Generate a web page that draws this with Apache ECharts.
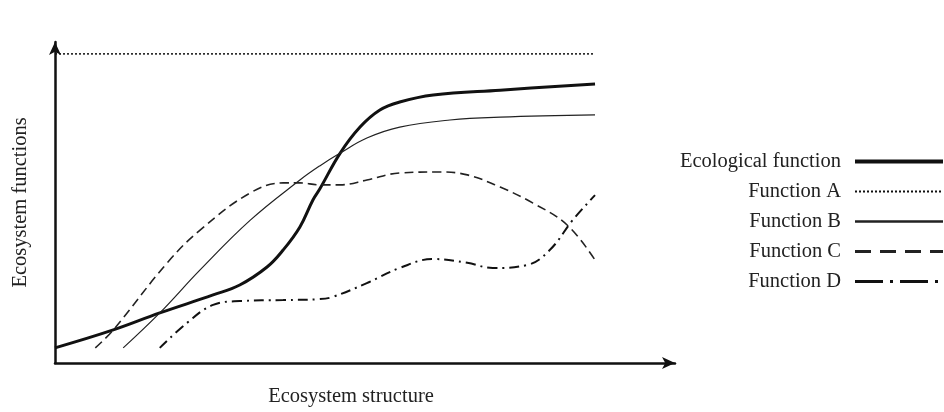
<!DOCTYPE html>
<html>
<head>
<meta charset="utf-8">
<script src="https://cdn.jsdelivr.net/npm/echarts@6/dist/echarts.min.js"></script>
<style>html,body{margin:0;padding:0;background:#fff}#c{width:944px;height:412px}</style>
</head>
<body>
<div id="c"></div>
<script>
var seriesNames = ['Ecological function', 'Function A', 'Function B', 'Function C', 'Function D'];
var ecological = [[0,4.7],[9.4,10.3],[16.9,15.6],[25.5,21.2],[29.8,24.3],[34.2,29.9],[36.8,35.2],[39.5,42.4],[41.6,50.8],[42.7,54.2],[46.0,65.4],[49.2,73.5],[52.4,78.8],[55.6,81.3],[61.0,83.5],[71.8,85.0],[87.1,86.9]];
var functionA = [[0,96.3],[87.1,96.3]];
var functionB = [[11.0,4.7],[16.9,15.6],[23.4,29.0],[31.5,44.5],[39.5,57.0],[42.7,61.4],[46.0,65.4],[50.3,70.1],[55.6,73.5],[63.7,75.7],[71.8,76.6],[87.1,77.3]];
var functionC = [[6.5,4.7],[9.4,10.3],[18.1,31.2],[23.4,41.4],[31.5,53.0],[36.8,56.1],[39.5,56.1],[42.7,55.5],[46.0,55.5],[50.3,57.0],[55.6,59.2],[62.1,59.5],[66.5,58.6],[71.8,54.8],[77.1,49.8],[82.6,43.0],[87.1,32.1]];
var functionD = [[16.9,4.7],[21.3,12.5],[25.5,18.1],[29.8,19.3],[36.8,19.6],[42.7,19.9],[44.8,20.6],[50.3,24.9],[55.6,29.6],[61.0,32.4],[66.5,31.2],[70.6,29.6],[76.1,30.5],[79.8,35.2],[83.5,44.5],[87.1,52.3]];

var serif = "'Liberation Serif', 'DejaVu Serif', serif";
var ink = '#111';
var legendStyles = [
  { width: 4, type: 'solid' },
  { width: 2, type: [2, 2] },
  { width: 2.5, type: 'solid' },
  { width: 3, type: [16, 9] },
  { width: 3, type: [28, 7, 3, 7] }
];
var chart = echarts.init(document.getElementById('c'));
chart.setOption({
  animation: false,
  backgroundColor: '#fff',
  grid: { left: 55, right: 269, top: 42, bottom: 49, containLabel: false, outerBoundsMode: 'none' },
  xAxis: {
    type: 'value', min: 0, max: 100,
    name: 'Ecosystem structure', nameLocation: 'middle', nameGap: 23,
    nameTextStyle: { fontFamily: serif, fontSize: 20.5, color: '#222', padding: [0, 28, 0, 0] },
    axisLine: { show: true, symbol: ['none', 'arrow'], symbolSize: [9, 13], lineStyle: { color: ink, width: 2.5 } },
    axisTick: { show: false }, axisLabel: { show: false }, splitLine: { show: false }
  },
  yAxis: {
    type: 'value', min: 0, max: 100,
    name: 'Ecosystem functions', nameLocation: 'middle', nameGap: 24,
    nameTextStyle: { fontFamily: serif, fontSize: 20.5, color: '#222' },
    axisLine: { show: true, symbol: ['none', 'arrow'], symbolSize: [9, 13], lineStyle: { color: ink, width: 2.5 } },
    axisTick: { show: false }, axisLabel: { show: false }, splitLine: { show: false }
  },
  legend: {
    orient: 'vertical', right: -6, top: 146, align: 'right',
    itemWidth: 88, itemHeight: 18, itemGap: 9,
    data: seriesNames.map(function (n, i) { return { name: n, lineStyle: legendStyles[i] }; }),
    itemStyle: { opacity: 0 },
    textStyle: { fontFamily: serif, fontSize: 20.5, color: '#222', padding: [0, 9, 0, 0] }
  },
  series: [
    { name: seriesNames[0], type: 'line', data: ecological, smooth: 0.4, symbol: 'none', lineStyle: { color: ink, width: 3 }, itemStyle: { color: ink } },
    { name: seriesNames[1], type: 'line', data: functionA, symbol: 'none', lineStyle: { color: ink, width: 1.5, type: [2, 2] }, itemStyle: { color: ink } },
    { name: seriesNames[2], type: 'line', data: functionB, smooth: 0.4, symbol: 'none', lineStyle: { color: '#222', width: 1.2 }, itemStyle: { color: ink } },
    { name: seriesNames[3], type: 'line', data: functionC, smooth: 0.4, symbol: 'none', lineStyle: { color: '#222', width: 1.6, type: [9, 5] }, itemStyle: { color: ink } },
    { name: seriesNames[4], type: 'line', data: functionD, smooth: 0.4, symbol: 'none', lineStyle: { color: ink, width: 2, type: [10, 5, 2, 5] }, itemStyle: { color: ink } }
  ]
});
</script>
</body>
</html>
